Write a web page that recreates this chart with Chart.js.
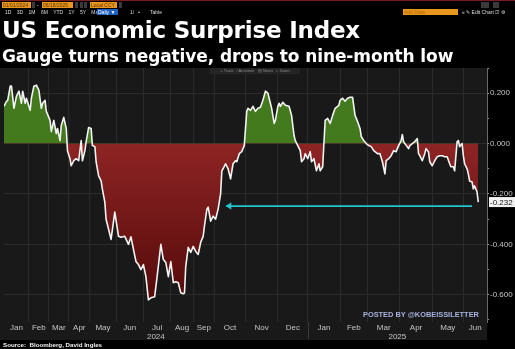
<!DOCTYPE html>
<html>
<head>
<meta charset="utf-8">
<script src="https://cdn.jsdelivr.net/npm/chart.js@4.4.1/dist/chart.umd.min.js"></script>
<style>
    html, body { margin: 0; padding: 0; background: #000; }
    #wrap { position: relative; width: 515px; height: 349px; overflow: hidden; background: #000; }
    #chart { position: absolute; left: 0; top: 0; }
    .abs { position: absolute; white-space: nowrap; }
    .title { left: 2px; top: 17px; font: bold 23px "DejaVu Sans", sans-serif; color: #fff; letter-spacing: -0.2px; }
    .subtitle { left: 2px; top: 46px; font: bold 17px "DejaVu Sans", sans-serif; color: #fff; letter-spacing: -0.1px; }
    .bar { font: 5px "Liberation Sans", Arial, sans-serif; color: #ddd; line-height: 6px; }
    .orange { background: #e9961e; color: #5a3300; padding: 0 1px; height: 6px; }
    .grey { background: #3a3a3a; height: 6px; }
    .tool { left: 210px; top: 68px; width: 90px; height: 6px; background: #242424; font: 4px "Liberation Sans", Arial, sans-serif; color: #8a8a8a; line-height: 6px; text-align: center; }
    .mark { left: 363px; top: 310px; font: bold 7.4px "Liberation Sans", Arial, sans-serif; color: #a6b1dc; }
    .source { left: 3px; top: 341px; font: bold 6.2px "Liberation Sans", Arial, sans-serif; color: #f0f0f0; }
</style>
</head>
<body>
<div id="wrap">
    <canvas id="chart" width="515" height="349"></canvas>

    <!-- terminal toolbar -->
    <div class="abs" style="left:0;top:0;width:515px;height:1px;background:#7a1c1c;"></div>
    <div class="abs bar orange" style="left:2px;top:2px;width:27px;">01/01/2024</div>
    <div class="abs bar grey" style="left:32px;top:2px;width:3px;"></div>
    <div class="abs bar" style="left:37px;top:2px;">-</div>
    <div class="abs bar orange" style="left:42px;top:2px;width:29px;">06/18/2025</div>
    <div class="abs bar grey" style="left:75px;top:2px;width:3px;"></div>
    <div class="abs bar grey" style="left:80px;top:2px;width:3px;"></div>
    <div class="abs bar grey" style="left:84px;top:2px;width:3px;"></div>
    <div class="abs bar orange" style="left:90px;top:2px;width:25px;">Local CCY</div>
    <div class="abs bar grey" style="left:119px;top:2px;width:3px;"></div>
    <div class="abs bar" style="left:5px;top:9px;word-spacing:4px;">1D 3D 1M 6M YTD 1Y 5Y Max</div>
    <div class="abs bar" style="left:97px;top:9px;width:20px;background:#1f5fbf;color:#fff;padding-left:1px;">Daily ▼</div>
    <div class="abs bar" style="left:122px;top:9px;width:6px;background:#1f5fbf;"></div>
    <div class="abs bar" style="left:130px;top:9px;">1/ &nbsp; ▪</div>
    <div class="abs bar" style="left:150px;top:9px;">Table</div>
    <div class="abs bar orange" style="left:403px;top:9px;width:53px;color:#b36a00;">Add Data</div>
    <div class="abs bar" style="left:462px;top:9px;">« ✎ Edit Chart ☑ ⚙</div>
    <div class="abs bar grey" style="left:481px;top:2px;width:8px;"></div>
    <div class="abs bar grey" style="left:493px;top:2px;width:6px;"></div>

    <div class="abs title">US Economic Surprise Index</div>
    <div class="abs subtitle">Gauge turns negative, drops to nine-month low</div>
    <div class="abs tool">+ Track &nbsp; ⁄ Annotate &nbsp; ▤ News &nbsp; ⌕ Zoom</div>
    <div class="abs mark">POSTED BY @KOBEISSILETTER</div>
    <div class="abs source">Source: &nbsp;Bloomberg, David Ingles</div>
</div>

<script>
// x is a trading-session index from the start of Jan 2024
const sessions = [
    0, 2, 3, 5, 6, 8, 10, 12, 14, 15, 17, 18, 21, 22, 24, 26, 28, 30, 31, 33,
    34, 37, 38, 40, 42, 43, 45, 46, 48, 50, 51, 53, 54, 56, 58, 60, 62, 63, 65, 66,
    68, 70, 71, 73, 74, 76, 78, 79, 81, 82, 84, 86, 89, 92, 94, 97, 100, 102, 104, 106,
    108, 110, 112, 114, 116, 118, 121, 123, 126, 128, 130, 132, 134, 136, 138, 140, 142, 144, 145, 146,
    148, 150, 152, 154, 156, 158, 160, 161, 163, 164, 166, 168, 170, 172, 174, 175, 176, 178, 180, 182,
    184, 186, 187, 189, 191, 193, 194, 195, 196, 198, 200, 202, 204, 206, 208, 210, 212, 214, 215, 217,
    218, 220, 221, 222, 224, 226, 229, 231, 233, 234, 236, 238, 239, 241, 242, 244, 246, 247, 249, 251,
    253, 254, 256, 258, 260, 262, 264, 266, 269, 270, 272, 274, 276, 278, 280, 282, 284, 286, 287, 289,
    291, 293, 295, 297, 300, 302, 304, 306, 307, 309, 311, 313, 315, 317, 319, 320, 321, 322, 325, 326,
    328, 330, 332, 333, 334, 336, 338, 339, 341, 342, 344, 346, 348, 350, 352, 354, 356, 358, 359, 361,
    362, 364, 365, 366, 368, 369, 370, 372, 373, 374, 376, 377, 378, 380, 381
];
const values = [
    0.148, 0.168, 0.172, 0.228, 0.228, 0.140, 0.188, 0.208, 0.160, 0.208, 0.160, 0.180, 0.132, 0.180, 0.228, 0.232, 0.212, 0.140, 0.160, 0.172,
    0.128, 0.092, 0.048, 0.092, 0.040, 0.060, 0.012, 0.072, 0.104, 0.060, -0.028, -0.060, -0.088, -0.068, -0.060, -0.068, 0.012, -0.068, -0.028, 0.008,
    0.064, 0.060, -0.008, -0.012, -0.072, -0.128, -0.148, -0.180, -0.232, -0.300, -0.340, -0.380, -0.272, -0.368, -0.372, -0.368, -0.400, -0.370, -0.420, -0.468,
    -0.480, -0.500, -0.480, -0.528, -0.620, -0.612, -0.608, -0.528, -0.400, -0.460, -0.472, -0.528, -0.468, -0.552, -0.548, -0.552, -0.592, -0.596, -0.592, -0.488,
    -0.412, -0.432, -0.408, -0.428, -0.440, -0.392, -0.368, -0.328, -0.260, -0.252, -0.308, -0.288, -0.300, -0.260, -0.200, -0.108, -0.100, -0.080, -0.100, -0.140,
    -0.080, -0.068, -0.072, -0.040, -0.032, -0.008, 0.060, 0.128, 0.140, 0.132, 0.148, 0.128, 0.140, 0.144, 0.172, 0.208, 0.200, 0.160, 0.140, 0.080,
    0.092, 0.148, 0.160, 0.148, 0.164, 0.152, 0.148, 0.112, 0.032, 0.012, -0.008, -0.028, -0.072, -0.060, -0.040, -0.060, -0.032, -0.072, -0.060, -0.108,
    -0.080, -0.108, -0.092, 0.092, 0.100, 0.080, 0.112, 0.140, 0.152, 0.172, 0.180, 0.168, 0.180, 0.184, 0.184, 0.112, 0.088, 0.060, 0.028, 0.012,
    0.000, -0.008, -0.012, -0.028, -0.040, -0.040, -0.072, -0.120, -0.068, -0.060, -0.048, -0.028, -0.032, -0.008, 0.012, 0.036, 0.008, 0.000, -0.020, -0.008,
    0.000, 0.008, 0.020, -0.040, -0.048, -0.068, -0.040, -0.020, -0.032, -0.072, -0.088, -0.068, -0.052, -0.048, -0.048, -0.052, -0.052, -0.080, -0.092, -0.092,
    -0.108, 0.008, 0.012, -0.012, 0.000, -0.048, -0.080, -0.100, -0.120, -0.148, -0.152, -0.180, -0.168, -0.192, -0.232
];

// month boundaries (session index) and labels
const monthEdges = [0, 20, 36, 52, 69, 90, 112, 134, 152, 169, 194, 220, 244, 270, 292, 318, 344, 369, 388];
const monthLabels = ['Jan', 'Feb', 'Mar', 'Apr', 'May', 'Jun', 'Jul', 'Aug', 'Sep', 'Oct', 'Nov', 'Dec',
                     'Jan', 'Feb', 'Mar', 'Apr', 'May', 'Jun'];
const yearEdges = [0, 244, 388];
const yearLabels = ['2024', '2025'];

const yTicks = [-0.7, -0.6, -0.5, -0.4, -0.3, -0.2, -0.1, 0, 0.1, 0.2, 0.3];
const yMin = -0.708;
const yMax = 0.3;

// arrow annotation pointing at the current level
const arrowX = [181, 376];
const arrowLevel = -0.248;

const mid = edges => edges.slice(1).map((e, i) => (edges[i] + e) / 2);
const isMajor = v => Math.round(v * 10) % 2 === 0;

// background, year divider and last-value tag
const decorations = {
    id: 'decorations',
    beforeDraw(chart) {
        const {ctx, chartArea} = chart;
        ctx.save();
        ctx.fillStyle = '#191919';
        ctx.fillRect(0, chartArea.top, chartArea.right, 340 - chartArea.top);
        ctx.restore();
    },
    afterDraw(chart) {
        const {ctx, chartArea, scales} = chart;
        ctx.save();
        // year separator
        const sx = Math.round(scales.x.getPixelForValue(yearEdges[1])) + 0.5;
        ctx.strokeStyle = '#3a3a3a';
        ctx.lineWidth = 1;
        ctx.beginPath();
        ctx.moveTo(sx, chartArea.bottom);
        ctx.lineTo(sx, 339);
        ctx.stroke();

        // last value tag
        const last = values[values.length - 1];
        const py = scales.y.getPixelForValue(last);
        ctx.fillStyle = '#f2f2f2';
        ctx.fillRect(chartArea.right + 2, py - 5, 26, 10);
        ctx.fillStyle = '#111';
        ctx.font = '8px "Liberation Sans", Arial, sans-serif';
        ctx.textBaseline = 'middle';
        ctx.textAlign = 'left';
        ctx.fillText(last.toFixed(3), chartArea.right + 3, py + 0.5);
        ctx.restore();
    }
};

function createChart() {
    const ctx = document.getElementById('chart').getContext('2d');

    return new Chart(ctx, {
        type: 'line',
        data: {
            datasets: [{
                label: 'US Economic Surprise Index',
                data: sessions.map((s, i) => ({x: s, y: values[i]})),
                borderColor: '#f3f3f3',
                borderWidth: 1.6,
                borderJoinStyle: 'round',
                pointRadius: 0,
                tension: 0,
                fill: {target: {value: 0}, above: '#437a1e'},
                backgroundColor: c => {
                    const {chart} = c;
                    if (!chart.chartArea || !chart.scales.y) return '#7a1a1a';
                    const zero = chart.scales.y.getPixelForValue(0);
                    const g = chart.ctx.createLinearGradient(0, zero, 0, chart.chartArea.bottom);
                    g.addColorStop(0, '#8e2424');
                    g.addColorStop(1, '#4e0707');
                    return g;
                },
                order: 1
            }, {
                label: 'arrow',
                data: arrowX.map(x => ({x: x, y: arrowLevel})),
                borderColor: '#27c6cf',
                backgroundColor: '#27c6cf',
                borderWidth: 1.8,
                pointStyle: 'triangle',
                pointRadius: [4, 0],
                pointRotation: -90,
                pointBorderWidth: 0,
                fill: false,
                order: 0
            }]
        },
        options: {
            responsive: false,
            animation: false,
            devicePixelRatio: 1,
            layout: {padding: {left: 2, top: 68, right: 0, bottom: 7}},
            plugins: {
                legend: {display: false},
                tooltip: {enabled: false}
            },
            scales: {
                x: {
                    type: 'linear',
                    min: 0,
                    max: monthEdges[monthEdges.length - 1],
                    weight: 0,
                    afterBuildTicks: s => { s.ticks = monthEdges.slice(1, -1).map(v => ({value: v})); },
                    afterFit: s => { s.height = 0; },
                    ticks: {display: false},
                    grid: {color: '#2b2b2b', lineWidth: 1, drawTicks: false},
                    border: {display: false}
                },
                xm: {
                    type: 'linear',
                    position: 'bottom',
                    min: 0,
                    max: monthEdges[monthEdges.length - 1],
                    weight: 1,
                    afterBuildTicks: s => { s.ticks = mid(monthEdges).map(v => ({value: v})); },
                    afterFit: s => { s.height = 10; },
                    ticks: {
                        autoSkip: false,
                        maxRotation: 0,
                        padding: 1,
                        color: '#c4c4c4',
                        font: {family: '"Liberation Sans", Arial, sans-serif', size: 8},
                        callback: (v, i) => monthLabels[i]
                    },
                    grid: {display: false, drawTicks: false},
                    border: {display: false}
                },
                xy: {
                    type: 'linear',
                    position: 'bottom',
                    min: 0,
                    max: monthEdges[monthEdges.length - 1],
                    weight: 2,
                    afterBuildTicks: s => { s.ticks = mid(yearEdges).map(v => ({value: v})); },
                    afterFit: s => { s.height = 10; },
                    ticks: {
                        autoSkip: false,
                        maxRotation: 0,
                        padding: 0,
                        color: '#c4c4c4',
                        font: {family: '"Liberation Sans", Arial, sans-serif', size: 8},
                        callback: (v, i) => yearLabels[i]
                    },
                    grid: {display: false, drawTicks: false},
                    border: {display: false}
                },
                y: {
                    type: 'linear',
                    position: 'right',
                    min: yMin,
                    max: yMax,
                    afterBuildTicks: s => { s.ticks = yTicks.map(v => ({value: v})); },
                    afterFit: s => { s.width = 28; },
                    ticks: {
                        padding: 1,
                        color: '#c4c4c4',
                        font: {family: '"Liberation Sans", Arial, sans-serif', size: 8},
                        callback: v => isMajor(v) ? v.toFixed(3) : ''
                    },
                    grid: {
                        color: c => isMajor(c.tick.value) ? '#2b2b2b' : 'rgba(0,0,0,0)',
                        tickColor: '#9a9a9a',
                        tickLength: 2,
                        drawTicks: true
                    },
                    border: {display: true, color: '#6a6a6a', width: 1}
                }
            }
        },
        plugins: [decorations]
    });
}

document.addEventListener('DOMContentLoaded', () => {
    createChart();
});
</script>
</body>
</html>
